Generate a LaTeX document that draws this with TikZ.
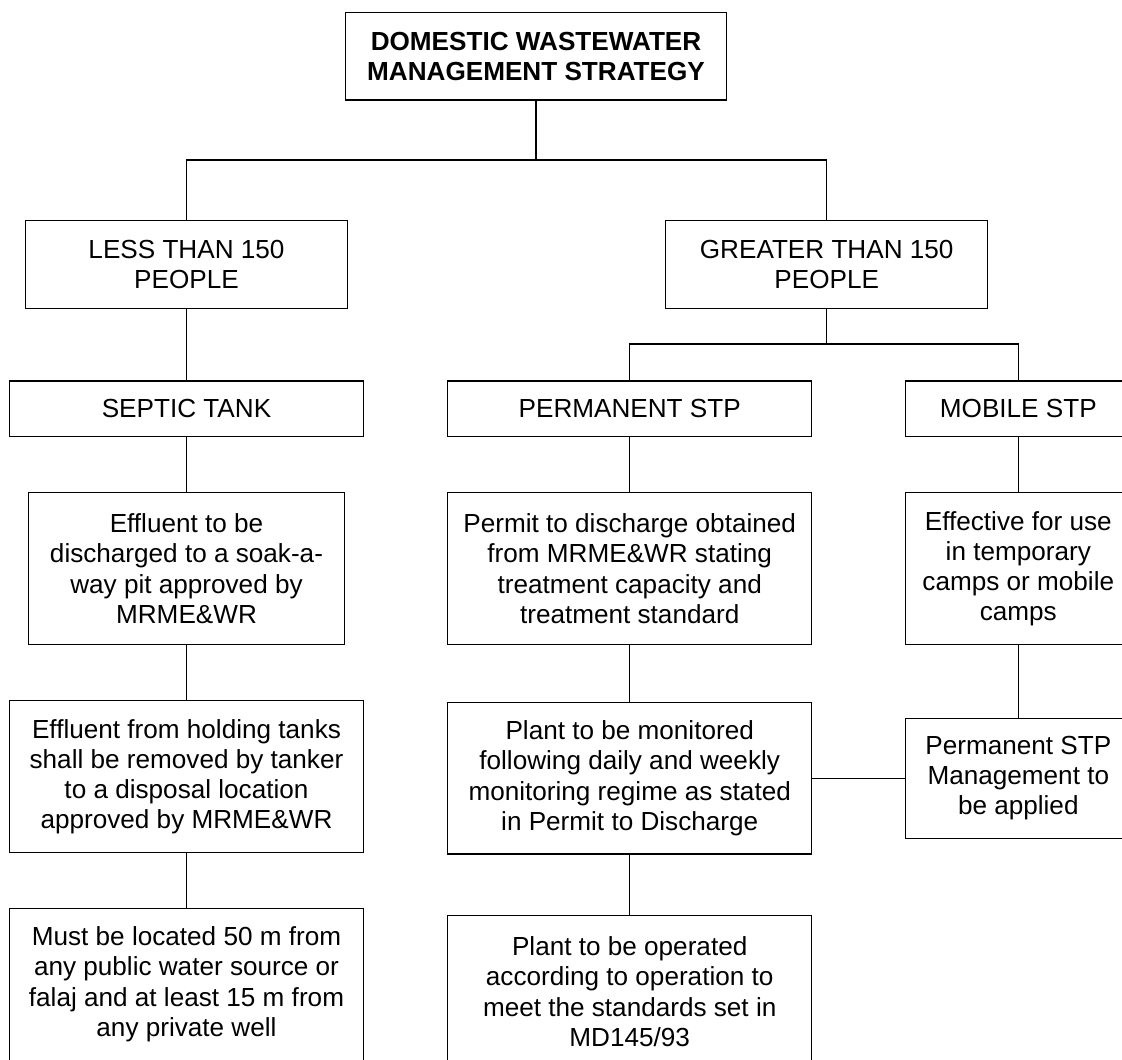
\documentclass[tikz,border=0pt]{standalone}
\usepackage{fontspec}
\setmainfont{Liberation Sans}
\usetikzlibrary{positioning}

\begin{document}
\begin{tikzpicture}[
        x=0.03cm, y=-0.03cm,
        box/.style={draw, line width=1pt, inner sep=0pt, outer sep=0pt, align=center,
            font=\fontsize{22.3}{25.8}\selectfont},
        link/.style={line width=1pt}
    ]

    %=== Page frame ===%
    \useasboundingbox (0,0) rectangle (1122,1059);
    \clip (0,0) rectangle (1122,1059);

    %=== Column centres ===%
    \def\colA{186.5}
    \def\colB{629.7}
    \def\colC{1018.3}

    %=== Level 0 ===%
    \node[box, minimum width=11.42cm, minimum height=2.63cm] (strategy) at (536,56.2)
        {\textbf{DOMESTIC WASTEWATER}\\\textbf{MANAGEMENT STRATEGY}};

    %=== Level 1 ===%
    \node[box, minimum width=9.66cm, minimum height=2.63cm] (less) at (\colA,264.5)
        {LESS THAN 150\\PEOPLE};
    \node[box, minimum width=9.66cm, minimum height=2.63cm] (greater) at (826.7,264.5)
        {GREATER THAN 150\\PEOPLE};

    %=== Level 2 ===%
    \node[box, minimum width=10.62cm, minimum height=1.665cm] (septic) at (\colA,408.7)
        {SEPTIC TANK};
    \node[box, minimum width=10.92cm, minimum height=1.665cm] (permstp) at (\colB,408.7)
        {PERMANENT STP};
    \node[box, minimum width=6.76cm, minimum height=1.665cm] (mobstp) at (\colC,408.7)
        {MOBILE STP};

    %=== Level 3 ===%
    \node[box, minimum width=9.46cm, minimum height=4.56cm] (soakaway) at (\colA,568.7)
        {Effluent to be\\discharged to a soak-a-\\way pit approved by\\MRME\&WR};
    \node[box, minimum width=10.92cm, minimum height=4.56cm] (permit) at (\colB,568.7)
        {Permit to discharge obtained\\from MRME\&WR stating\\treatment capacity and\\treatment standard};
    \node[box, minimum width=6.76cm, minimum height=4.56cm] (temporary) at (\colC,568.7)
        {Effective for use\\in temporary\\camps or mobile\\camps};

    %=== Level 4 ===%
    \node[box, minimum width=10.62cm, minimum height=4.56cm] (holding) at (\colA,776.7)
        {Effluent from holding tanks\\shall be removed by tanker\\to a disposal location\\approved by MRME\&WR};
    \node[box, minimum width=10.92cm, minimum height=4.55cm] (monitor) at (\colB,778.2)
        {Plant to be monitored\\following daily and weekly\\monitoring regime as stated\\in Permit to Discharge};
    \node[box, minimum width=6.76cm, minimum height=3.6cm] (mgmt) at (\colC,778.2)
        {Permanent STP\\Management to\\be applied};

    %=== Level 5 ===%
    \node[box, minimum width=10.62cm, minimum height=4.56cm] (distance) at (\colA,984.3)
        {Must be located 50 m from\\any public water source or\\falaj and at least 15 m from\\any private well};
    \node[box, minimum width=10.92cm, minimum height=4.56cm] (operate) at (\colB,991.7)
        {Plant to be operated\\according to operation to\\meet the standards set in\\MD145/93};

    %=== Connectors ===%
    \coordinate (split1) at (536,160);
    \coordinate (split2) at (826.7,344);

    \draw[link] (strategy.south) -- (split1);
    \draw[link] (split1) -| (less.north);
    \draw[link] (split1) -| (greater.north);

    \draw[link] (greater.south) -- (split2);
    \draw[link] (split2) -| (permstp.north);
    \draw[link] (split2) -| (mobstp.north);

    \draw[link] (less.south) -- (septic.north);
    \draw[link] (septic.south) -- (soakaway.north);
    \draw[link] (soakaway.south) -- (holding.north);
    \draw[link] (holding.south) -- (distance.north);

    \draw[link] (permstp.south) -- (permit.north);
    \draw[link] (permit.south) -- (monitor.north);
    \draw[link] (monitor.south) -- (operate.north);

    \draw[link] (mobstp.south) -- (temporary.north);
    \draw[link] (temporary.south) -- (mgmt.north);
    \draw[link] (monitor.east) -- (mgmt.west);
\end{tikzpicture}
\end{document}
